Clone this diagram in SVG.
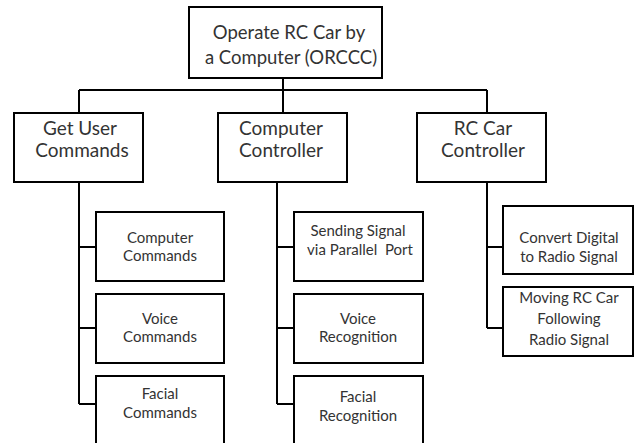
<svg xmlns="http://www.w3.org/2000/svg" width="635" height="443" viewBox="0 0 635 443">
<style>
.box{fill:#fff;stroke:#000;stroke-width:2}
.wire{fill:none;stroke:#000;stroke-width:2}
text{font-family:Lato,"Open Sans",sans-serif;fill:#333;text-anchor:middle}
.t1{font-size:18.5px}
.t2{font-size:19px}
.t3{font-size:15px}
</style>
<rect width="635" height="443" fill="#fff"/>
<g id="connectors">
<path class="wire" d="M283,78V90M79,90H487M79,90V113M283,90V113M487,90V113"/>
<path class="wire" d="M79,182V404M79,247H96M79,328H96M79,404H96"/>
<path class="wire" d="M277,182V404M277,247H294M277,328H294M277,404H294"/>
<path class="wire" d="M487,182V328M487,247H503M487,328H503"/>
</g>
<g id="root">
<rect class="box" x="189" y="7" width="193" height="71"/>
<text class="t1" x="289" y="39">Operate RC Car by</text>
<text class="t1" x="291" y="64">a Computer (ORCCC)</text>
</g>
<g id="get-user-commands">
<rect class="box" x="14" y="113" width="129" height="69"/>
<text class="t2" x="80" y="135">Get User</text>
<text class="t2" x="82" y="157">Commands</text>
</g>
<g id="computer-controller">
<rect class="box" x="218" y="113" width="129" height="69"/>
<text class="t2" x="281" y="135">Computer</text>
<text class="t2" x="281" y="157">Controller</text>
</g>
<g id="rc-car-controller">
<rect class="box" x="417" y="113" width="129" height="69"/>
<text class="t2" x="483" y="135">RC Car</text>
<text class="t2" x="483" y="157">Controller</text>
</g>
<g id="computer-commands">
<rect class="box" x="96" y="212" width="128" height="69"/>
<text class="t3" x="160" y="243">Computer</text>
<text class="t3" x="160" y="261">Commands</text>
</g>
<g id="voice-commands">
<rect class="box" x="96" y="294" width="128" height="69"/>
<text class="t3" x="160" y="324">Voice</text>
<text class="t3" x="160" y="342">Commands</text>
</g>
<g id="facial-commands">
<rect class="box" x="96" y="376" width="128" height="80"/>
<text class="t3" x="160" y="399">Facial</text>
<text class="t3" x="160" y="418">Commands</text>
</g>
<g id="sending-signal">
<rect class="box" x="294" y="212" width="129" height="69"/>
<text class="t3" x="358" y="236">Sending Signal</text>
<text class="t3" x="360" y="255" xml:space="preserve">via Parallel  Port</text>
</g>
<g id="voice-recognition">
<rect class="box" x="294" y="294" width="129" height="69"/>
<text class="t3" x="358" y="324">Voice</text>
<text class="t3" x="358" y="342">Recognition</text>
</g>
<g id="facial-recognition">
<rect class="box" x="294" y="376" width="129" height="80"/>
<text class="t3" x="358" y="402">Facial</text>
<text class="t3" x="358" y="421">Recognition</text>
</g>
<g id="convert-digital">
<rect class="box" x="503" y="206" width="130" height="68"/>
<text class="t3" x="569" y="243">Convert Digital</text>
<text class="t3" x="569" y="262">to Radio Signal</text>
</g>
<g id="moving-rc-car">
<rect class="box" x="503" y="287" width="130" height="69"/>
<text class="t3" x="569" y="303">Moving RC Car</text>
<text class="t3" x="569" y="324">Following</text>
<text class="t3" x="569" y="345">Radio Signal</text>
</g>
</svg>
